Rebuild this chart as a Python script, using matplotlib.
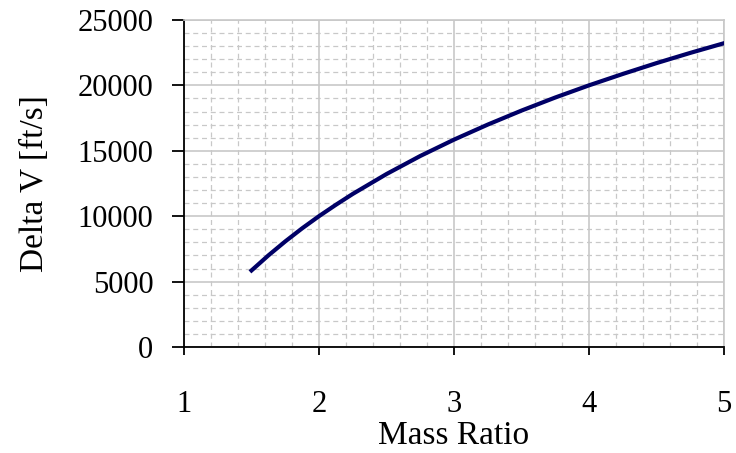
import matplotlib.pyplot as plt
from matplotlib.ticker import MultipleLocator

mass_ratio = [1.5, 1.625, 1.75, 1.875, 2.0, 2.125, 2.25, 2.5, 2.75, 3.0, 3.25, 3.5, 3.75,
              4.0, 4.25, 4.5, 4.75, 5.0]
delta_v = [5850, 7000, 8070, 9070, 10000, 10870, 11700, 13220, 14600, 15850, 17000, 18070,
           19070, 20000, 20870, 21700, 22480, 23220]

plt.rcParams['font.family'] = ['Liberation Serif', 'DejaVu Serif']

fig = plt.figure(figsize=(7.36, 4.53), dpi=100)
ax = fig.add_axes([0.25, 0.234, 0.7337, 0.722])

ax.plot(mass_ratio, delta_v, color='#000066', linewidth=3, zorder=3)

ax.set_xlim(1, 5)
ax.set_ylim(0, 25000)
ax.xaxis.set_major_locator(MultipleLocator(1))
ax.xaxis.set_minor_locator(MultipleLocator(0.2))
ax.yaxis.set_major_locator(MultipleLocator(5000))
ax.yaxis.set_minor_locator(MultipleLocator(1000))

ax.grid(which='major', color='#c8c8c8', linewidth=1.2, linestyle='-')
ax.grid(which='minor', color='#c8c8c8', linewidth=0.9, linestyle=(0, (4, 3)))
ax.set_axisbelow(True)

ax.tick_params(which='minor', length=0)
ax.tick_params(axis='x', which='major', direction='out', length=6, width=1.3, pad=25, labelsize=22)
ax.tick_params(axis='y', which='major', direction='out', length=9, width=1.3, pad=13, labelsize=22)

for s in ['top', 'right']:
    ax.spines[s].set_color('#c8c8c8')
    ax.spines[s].set_linewidth(1.2)
for s in ['left', 'bottom']:
    ax.spines[s].set_color('black')
    ax.spines[s].set_linewidth(1.3)

ax.set_xlabel('Mass Ratio', fontsize=24, labelpad=1)
ax.set_ylabel('Delta V [ft/s]', fontsize=24, labelpad=20)

fig.savefig('out.png', dpi=100)
